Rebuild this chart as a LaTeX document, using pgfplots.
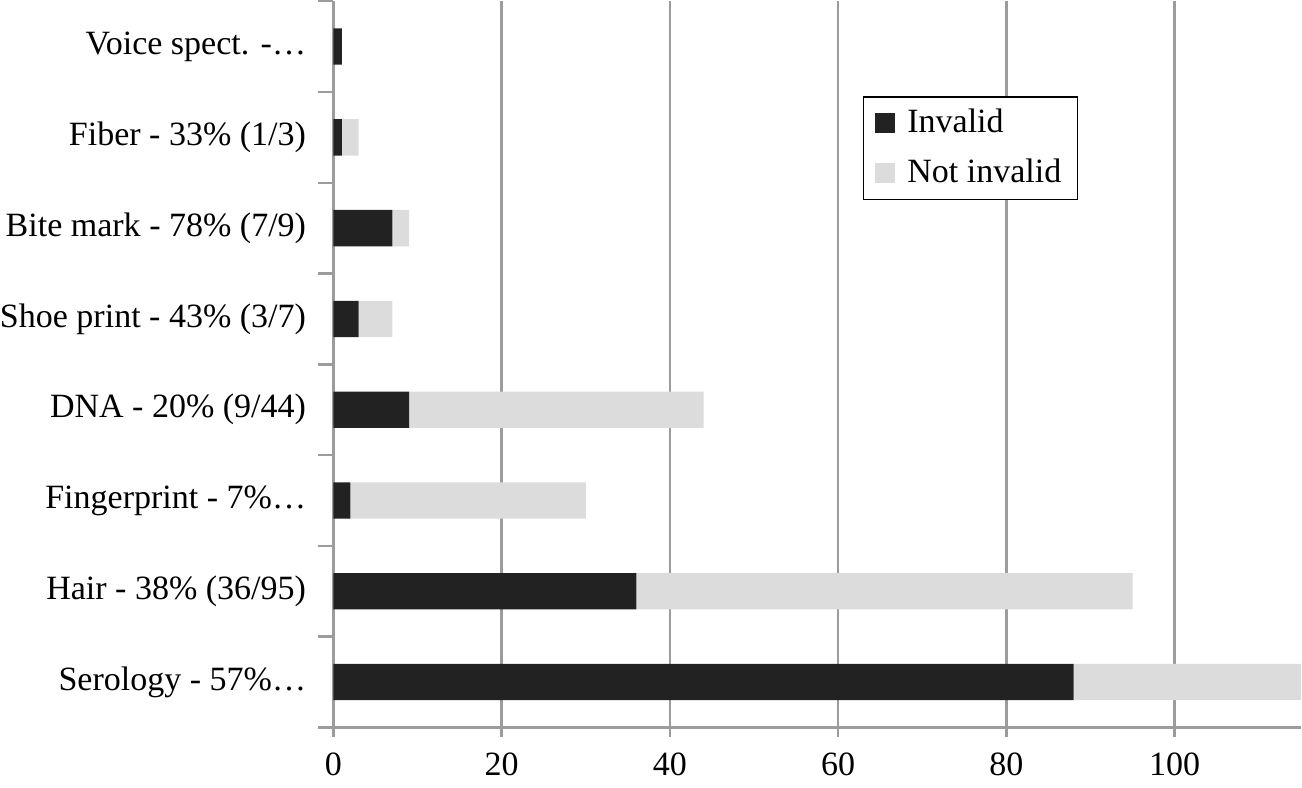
\documentclass[border=0pt]{standalone}
\usepackage{fontspec}
\setmainfont{Liberation Serif}
\usepackage{pgfplots}
\pgfplotsset{compat=1.18}
\definecolor{barblack}{HTML}{222222}
\definecolor{bargray}{HTML}{DCDCDC}
\definecolor{axgray}{HTML}{9C9C9C}
\begin{document}
\fontsize{17}{20}\selectfont
\begin{tikzpicture}
\begin{axis}[
  scale only axis,
  width=483.5pt, height=363pt,
  xbar stacked,
  bar width=0.4,
  xmin=0, xmax=115,
  ymin=-0.5, ymax=7.5,
  axis x line*=bottom,
  axis y line*=left,
  axis line style={axgray, line width=1.2pt, -},
  xtick={0,20,40,60,80,100},
  xmajorgrids,
  grid style={axgray, line width=1.2pt},
  major x tick style={axgray, line width=1.2pt},
  xtick align=outside,
  major tick length=5pt,
  /pgf/number format/assume math mode=true,
  ytick={0,1,2,3,4,5,6,7},
  yticklabels={Serology - 57\%…, Hair - 38\% (36/95), Fingerprint - 7\%…, DNA - 20\% (9/44), Shoe print - 43\% (3/7), Bite mark - 78\% (7/9), Fiber - 33\% (1/3), Voice spect. -…},
  major y tick style={draw=none},
  minor ytick={-0.5,0.5,1.5,2.5,3.5,4.5,5.5,6.5,7.5},
  minor y tick style={axgray, line width=1.2pt},
  minor tick length=7.5pt,
  ytick align=outside,
  yticklabel style={xshift=-8.5pt, inner xsep=0pt, font=\fontsize{17}{20}\selectfont},
  xticklabel style={font=\fontsize{17}{20}\selectfont, yshift=-2pt},
  clip=true,
  legend style={at={(rel axis cs:0.547,0.869)}, anchor=north west, draw=black, line width=0.7pt,
    font=\fontsize{17}{20}\selectfont, row sep=6.5pt, inner xsep=6pt, inner ysep=4pt},
  legend cell align=left,
  legend image code/.code={\fill[#1] (0pt,-5pt) rectangle (10pt,5pt); \path (0pt,0pt) (14pt,0pt);},
]
\addplot[fill=barblack, draw=none] coordinates {(88,0) (36,1) (2,2) (9,3) (3,4) (7,5) (1,6) (1,7)};
\addplot[fill=bargray, draw=none] coordinates {(65,0) (59,1) (28,2) (35,3) (4,4) (2,5) (2,6) (0,7)};
\legend{Invalid, Not invalid}
\end{axis}
\end{tikzpicture}
\end{document}
